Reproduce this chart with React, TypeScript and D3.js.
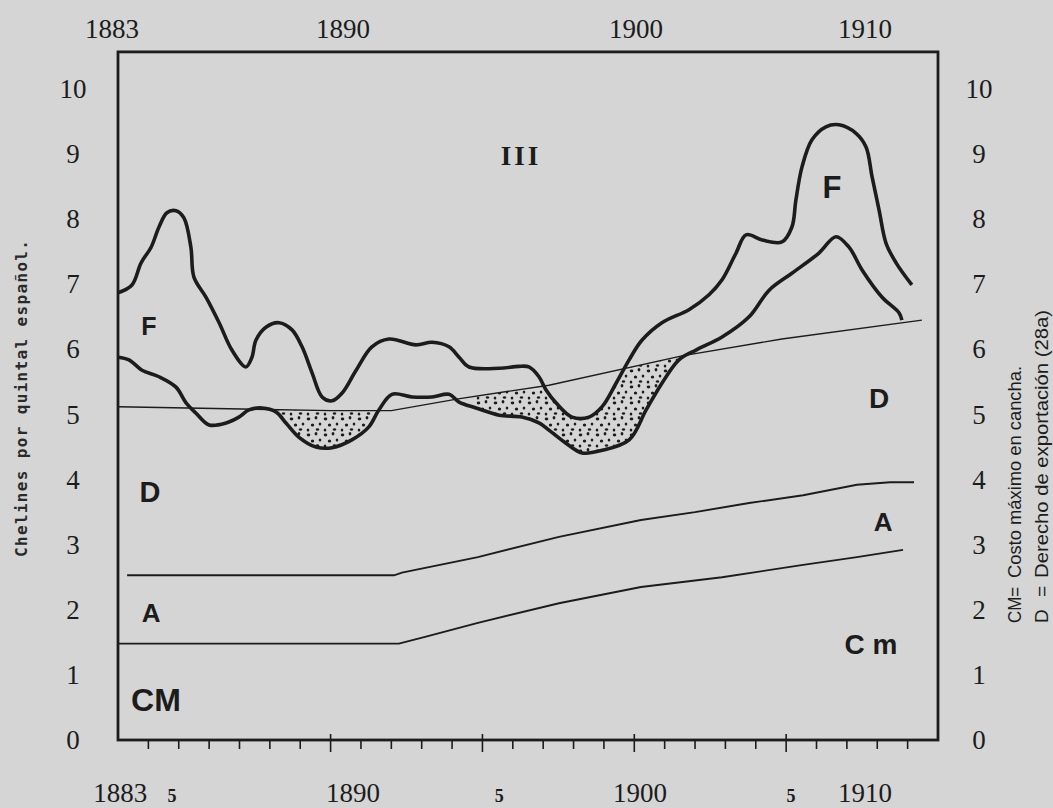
import * as d3 from "d3";

type Pt = [number, number];

// upper thick curve (F) and lower thick curve (D), year / chelines
const fLine: Pt[] = [
  [1883.0, 6.87], [1883.46, 6.99], [1883.76, 7.33], [1884.09, 7.57], [1884.35, 7.88],
  [1884.61, 8.1], [1884.91, 8.13], [1885.17, 8.02], [1885.4, 7.57], [1885.5, 7.11],
  [1885.9, 6.8], [1886.33, 6.41], [1886.75, 5.99], [1887.21, 5.73], [1887.41, 5.88],
  [1887.54, 6.14], [1887.87, 6.34], [1888.3, 6.41], [1888.73, 6.3], [1889.06, 6.04],
  [1889.39, 5.64], [1889.72, 5.27], [1890.05, 5.21], [1890.38, 5.33], [1890.84, 5.68],
  [1891.36, 6.04], [1891.92, 6.16], [1892.81, 6.07], [1893.34, 6.11], [1893.9, 6.04],
  [1894.23, 5.88], [1894.56, 5.73], [1895.55, 5.71], [1896.2, 5.74], [1896.53, 5.73],
  [1896.86, 5.58], [1897.09, 5.38], [1897.42, 5.18], [1897.95, 4.96], [1898.51, 4.96],
  [1898.94, 5.12], [1899.4, 5.48], [1899.83, 5.84], [1900.25, 6.14], [1900.91, 6.41],
  [1901.8, 6.61], [1902.46, 6.84], [1902.89, 7.07], [1903.35, 7.48], [1903.68, 7.76],
  [1904.21, 7.68], [1904.86, 7.65], [1905.19, 7.88], [1905.32, 8.29], [1905.52, 8.8],
  [1905.85, 9.22], [1906.31, 9.42], [1906.74, 9.45], [1907.3, 9.32], [1907.63, 9.11],
  [1907.83, 8.65], [1908.06, 8.14], [1908.29, 7.63], [1908.62, 7.33], [1909.14, 6.99]
];

const dLine: Pt[] = [
  [1883.0, 5.88], [1883.36, 5.84], [1883.79, 5.68], [1884.35, 5.58], [1884.91, 5.42],
  [1885.24, 5.18], [1885.57, 5.02], [1886.0, 4.84], [1886.56, 4.87], [1886.98, 4.96],
  [1887.31, 5.07], [1887.74, 5.1], [1888.2, 5.04], [1888.53, 4.87], [1888.96, 4.65],
  [1889.52, 4.5], [1890.05, 4.49], [1890.7, 4.61], [1891.26, 4.81], [1891.59, 5.07],
  [1892.02, 5.31], [1892.68, 5.27], [1893.34, 5.27], [1893.9, 5.31], [1894.23, 5.19],
  [1894.79, 5.1], [1895.55, 4.99], [1896.3, 4.96], [1896.86, 4.87], [1897.19, 4.76],
  [1897.75, 4.56], [1898.28, 4.41], [1898.94, 4.45], [1899.83, 4.61], [1900.39, 5.07],
  [1900.91, 5.48], [1901.47, 5.84], [1902.03, 5.99], [1902.89, 6.19], [1903.78, 6.5],
  [1904.44, 6.91], [1905.19, 7.17], [1906.08, 7.48], [1906.64, 7.73], [1907.07, 7.57],
  [1907.5, 7.22], [1908.16, 6.8], [1908.72, 6.56], [1908.81, 6.45]
];

// thin reference line
const trendLine: Pt[] = [
  [1883.0, 5.12], [1890.0, 5.06], [1892.0, 5.06], [1894.2, 5.24], [1897.19, 5.45],
  [1901.57, 5.9], [1904.86, 6.16], [1909.47, 6.45]
];

const aLine: Pt[] = [
  [1883.3, 2.53], [1892.09, 2.53], [1892.35, 2.57], [1894.85, 2.81], [1897.52, 3.12],
  [1900.22, 3.38], [1902.0, 3.5], [1903.78, 3.64], [1905.56, 3.76], [1907.33, 3.92],
  [1908.42, 3.96], [1909.21, 3.96]
];

const cmLine: Pt[] = [
  [1883.0, 1.48], [1892.25, 1.48], [1893.08, 1.58], [1894.85, 1.8], [1897.52, 2.1],
  [1900.22, 2.35], [1902.89, 2.5], [1905.56, 2.69], [1907.33, 2.81], [1908.85, 2.92]
];

const shadedPeriods: Pt[] = [[1888.0, 1892.5], [1894.8, 1902.5]];

const yTicks = d3.range(0, 11);
const minorYears = d3.range(1884, 1910);
const majorYears = [1890, 1895, 1900, 1905];

const topLabels = [
  { text: "1883", at: 1882.8 },
  { text: "1890", at: 1890.41 },
  { text: "1900", at: 1900.06 },
  { text: "1910", at: 1907.6 }
];

const bottomLabels = [
  { text: "1883", at: 1883.07, small: false },
  { text: "5", at: 1884.78, small: true },
  { text: "1890", at: 1890.74, small: false },
  { text: "5", at: 1895.55, small: true },
  { text: "1900", at: 1900.19, small: false },
  { text: "5", at: 1905.16, small: true },
  { text: "1910", at: 1907.6, small: false }
];

const curveLabels = [
  { text: "F", year: 1884.02, value: 6.36, size: 25 },
  { text: "F", year: 1906.51, value: 8.49, size: 31 },
  { text: "D", year: 1884.05, value: 3.81, size: 29 },
  { text: "D", year: 1908.06, value: 5.25, size: 28 },
  { text: "A", year: 1884.09, value: 1.95, size: 26 },
  { text: "A", year: 1908.19, value: 3.35, size: 26 },
  { text: "CM", year: 1884.25, value: 0.61, size: 32 },
  { text: "C m", year: 1907.79, value: 1.46, size: 28 }
];

const ink = "#1c1c1c";
const paper = "#d5d5d5";

export default function App() {
  const x = d3.scaleLinear().domain([1883, 1910]).range([118, 938]);
  const y = d3.scaleLinear().domain([0, 10]).range([740, 89]);
  const top = y(10.57);
  const bottom = y(0);

  const smooth = d3.curveCatmullRom.alpha(0.5);
  const smoothLine = d3.line<Pt>().x((d) => x(d[0])).y((d) => y(d[1])).curve(smooth);
  const straightLine = d3.line<Pt>().x((d) => x(d[0])).y((d) => y(d[1]));
  const belowSmooth = d3.area<Pt>().x((d) => x(d[0])).y0(bottom).y1((d) => y(d[1])).curve(smooth);
  const belowStraight = d3.area<Pt>().x((d) => x(d[0])).y0(bottom).y1((d) => y(d[1]));
  const aboveSmooth = d3.area<Pt>().x((d) => x(d[0])).y0(top).y1((d) => y(d[1])).curve(smooth);

  const serif = "'Liberation Serif', 'Times New Roman', serif";
  const sans = "'Liberation Sans', Arial, sans-serif";

  return (
    <svg width={1053} height={808} style={{ position: "absolute", left: 0, top: 0 }}>
      <defs>
        <pattern id="stipple" patternUnits="userSpaceOnUse" width={17} height={16}>
          <ellipse cx={2.5} cy={3} rx={1.8} ry={1.4} fill={ink} />
          <ellipse cx={10} cy={1.8} rx={1.4} ry={1.7} fill={ink} />
          <ellipse cx={6.5} cy={9} rx={1.7} ry={1.5} fill={ink} />
          <ellipse cx={14} cy={8} rx={1.3} ry={1.6} fill={ink} />
          <ellipse cx={11.5} cy={13.5} rx={1.7} ry={1.3} fill={ink} />
          <ellipse cx={2} cy={14} rx={1.3} ry={1.5} fill={ink} />
        </pattern>
        <clipPath id="periods">
          {shadedPeriods.map(([a, b], i) => (
            <rect key={i} x={x(a)} y={top} width={x(b) - x(a)} height={bottom - top} />
          ))}
        </clipPath>
        <clipPath id="belowTrend">
          <path d={belowStraight(trendLine) ?? ""} />
        </clipPath>
        <clipPath id="belowF">
          <path d={belowSmooth(fLine) ?? ""} />
        </clipPath>
      </defs>

      <rect width={1053} height={808} fill={paper} />

      {/* dotted deficit areas */}
      <g clipPath="url(#periods)">
        <g clipPath="url(#belowTrend)">
          <g clipPath="url(#belowF)">
            <path d={aboveSmooth(dLine) ?? ""} fill="url(#stipple)" />
          </g>
        </g>
      </g>

      {/* frame */}
      <rect x={x(1883)} y={top} width={x(1910) - x(1883)} height={bottom - top}
        fill="none" stroke={ink} strokeWidth={2.8} />

      {/* x ticks */}
      {minorYears.map((yr) => {
        const major = majorYears.includes(yr);
        return (
          <line key={yr} x1={x(yr)} x2={x(yr)} y1={major ? bottom - 6 : bottom}
            y2={major ? bottom + 12 : bottom + 9} stroke={ink} strokeWidth={1.6} />
        );
      })}

      {/* series */}
      <path d={straightLine(trendLine) ?? ""} fill="none" stroke={ink} strokeWidth={1.4} />
      <path d={straightLine(aLine) ?? ""} fill="none" stroke={ink} strokeWidth={1.9} />
      <path d={straightLine(cmLine) ?? ""} fill="none" stroke={ink} strokeWidth={1.9} />
      <path d={smoothLine(dLine) ?? ""} fill="none" stroke={ink} strokeWidth={3.6} strokeLinejoin="round" />
      <path d={smoothLine(fLine) ?? ""} fill="none" stroke={ink} strokeWidth={3.6} strokeLinejoin="round" />

      {/* y tick labels, both sides */}
      {yTicks.map((t) => (
        <g key={t} fontFamily={serif} fontSize={27} fill={ink} textAnchor="middle" dominantBaseline="central">
          <text x={73} y={y(t)}>{t}</text>
          <text x={979} y={y(t)}>{t}</text>
        </g>
      ))}

      {/* year labels */}
      {topLabels.map((l) => (
        <text key={"t" + l.text} x={x(l.at)} y={38} fontFamily={serif} fontSize={27}
          fill={ink} textAnchor="middle">{l.text}</text>
      ))}
      {bottomLabels.map((l, i) => (
        <text key={"b" + i} x={x(l.at)} y={802} fontFamily={serif}
          fontSize={l.small ? 18 : 27} fontWeight={l.small ? "bold" : "normal"}
          fill={ink} textAnchor="middle">{l.text}</text>
      ))}

      {/* curve labels */}
      {curveLabels.map((l, i) => (
        <text key={i} x={x(l.year)} y={y(l.value)} fontFamily={sans} fontWeight="bold"
          fontSize={l.size} fill={ink} textAnchor="middle" dominantBaseline="central">{l.text}</text>
      ))}
      <text x={x(1896.27)} y={y(8.97)} fontFamily={serif} fontWeight="bold" fontSize={27}
        letterSpacing={3} fill={ink} textAnchor="middle" dominantBaseline="central">III</text>

      {/* axis title */}
      <text transform="translate(21,557) rotate(-90)" fontFamily="'DejaVu Sans Mono', monospace"
        fontWeight="bold" fontSize={16} fill="#2a2a2a" dominantBaseline="central"
        textLength={317} lengthAdjust="spacing">Chelines por quintal español.</text>

      {/* legend notes */}
      <g fontFamily={sans} fontSize={19} fill={ink} dominantBaseline="central">
        <text transform="translate(1014,623) rotate(-90)" textLength={36} lengthAdjust="spacingAndGlyphs">CM=</text>
        <text transform="translate(1014,578) rotate(-90)" textLength={212} lengthAdjust="spacingAndGlyphs">Costo máximo en cancha.</text>
        <text transform="translate(1041,623) rotate(-90)">D</text>
        <text transform="translate(1041,597) rotate(-90)">=</text>
        <text transform="translate(1041,578) rotate(-90)" textLength={268} lengthAdjust="spacingAndGlyphs">Derecho de exportación (28a)</text>
      </g>
    </svg>
  );
}
